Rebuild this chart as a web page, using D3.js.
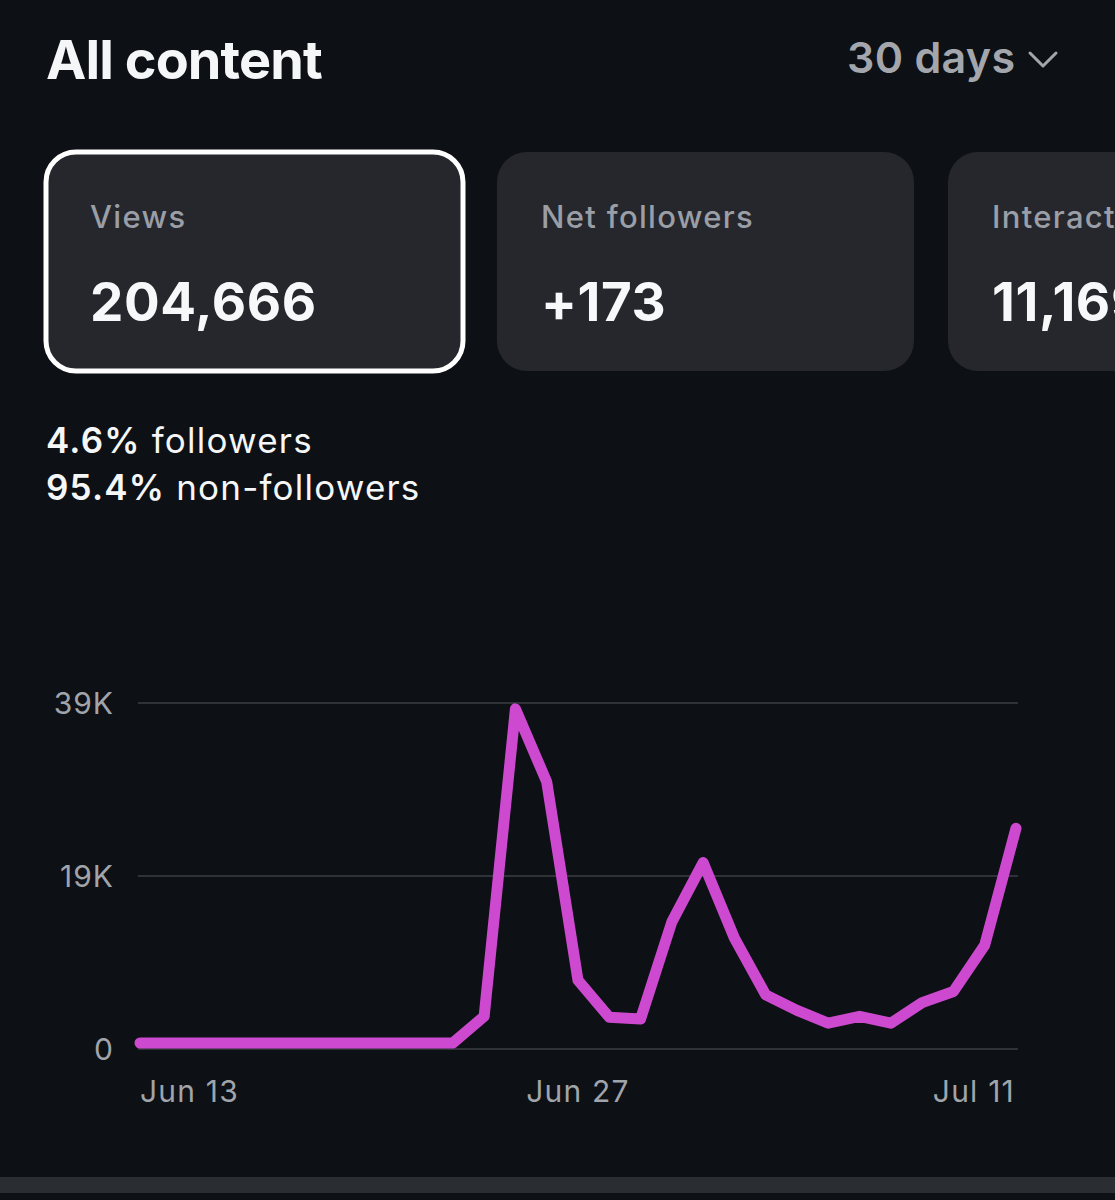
<!DOCTYPE html>
<html>
<head>
<meta charset="utf-8">
<script src="https://cdn.jsdelivr.net/npm/d3@7"></script>
<style>
  html, body { margin: 0; padding: 0; background: #0d1014; }
  svg { display: block; }
  text { font-family: Inter, "Noto Sans", sans-serif; }
</style>
</head>
<body>
<svg id="chart" width="1115" height="1200"></svg>
<script>
// ---- data ----
const days = ["Jun 13","Jun 14","Jun 15","Jun 16","Jun 17","Jun 18","Jun 19","Jun 20","Jun 21","Jun 22",
              "Jun 23","Jun 24","Jun 25","Jun 26","Jun 27","Jun 28","Jun 29","Jun 30","Jul 1","Jul 2",
              "Jul 3","Jul 4","Jul 5","Jul 6","Jul 7","Jul 8","Jul 9","Jul 10","Jul 11"];
const views = [0,0,0,0,0,0,0,0,0,0,0, 3100, 38900, 30400, 7300, 3000, 2800, 14100, 21000, 12200,
               5600, 3800, 2300, 3100, 2300, 4700, 6000, 11400, 25000];
const yTickValues = [0, 19500, 39000];
const yTickLabels = ["0", "19K", "39K"];
const xTickDays = ["Jun 13", "Jun 27", "Jul 11"];
const cardLabels = ["Views", "Net followers", "Interactions"];
const cardValues = ["204,666", "+173", "11,169"];
const splitPct = ["4.6%", "95.4%"];
const splitLabels = ["followers", "non-followers"];

// ---- setup ----
const svg = d3.select("#chart");
svg.append("rect").attr("width", 1115).attr("height", 1200).attr("fill", "#0d1014");

// header
svg.append("text").attr("x", 46).attr("y", 79)
  .attr("fill", "#f5f6f7").attr("font-size", 54).attr("font-weight", 700)
  .attr("letter-spacing", -0.9).text("All content");
svg.append("text").attr("x", 847).attr("y", 73)
  .attr("fill", "#a3a7ad").attr("font-size", 43).attr("font-weight", 600)
  .attr("letter-spacing", 0.3).text("30 days");
svg.append("path").attr("d", "M1030,53 L1043,66 L1056,53")
  .attr("fill", "none").attr("stroke", "#a3a7ad").attr("stroke-width", 3)
  .attr("stroke-linecap", "round").attr("stroke-linejoin", "round");

// cards
const cardX = d3.scaleLinear().domain([0, 1]).range([46, 497]);
const cards = svg.append("g").selectAll("g").data(cardLabels).join("g")
  .attr("transform", (d, i) => `translate(${cardX(i)},152)`);
cards.append("rect")
  .attr("width", 417).attr("height", 219).attr("rx", 30).attr("ry", 30)
  .attr("fill", "#25272c")
  .attr("stroke", (d, i) => i === 0 ? "#ffffff" : "none")
  .attr("stroke-width", 5);
cards.append("text").attr("x", 44).attr("y", 76)
  .attr("fill", "#9a9ea6").attr("font-size", 31).attr("font-weight", 500)
  .attr("letter-spacing", 1.3)
  .text(d => d);
cards.append("text").attr("x", 44).attr("y", 169)
  .attr("fill", "#f7f8f9").attr("font-size", 53).attr("font-weight", 700)
  .attr("letter-spacing", 0.6)
  .text((d, i) => cardValues[i]);

// split text
const split = svg.append("g").selectAll("text").data(splitPct).join("text")
  .attr("x", 46).attr("y", (d, i) => 453 + i * 47)
  .attr("fill", "#f5f6f7").attr("font-size", 35).attr("letter-spacing", 1.2);
split.append("tspan").attr("font-weight", 600).text(d => d);
split.append("tspan").attr("font-weight", 400).text((d, i) => " " + splitLabels[i]);

// ---- chart ----
const x = d3.scalePoint().domain(days).range([140, 1016]);
const yGrid = d3.scaleLinear().domain([0, 39000]).range([1049, 703]);
const yLine = d3.scaleLinear().domain([0, 39000]).range([1043, 708]);

// grid lines
svg.append("g").selectAll("line").data(yTickValues).join("line")
  .attr("x1", 138).attr("x2", 1018)
  .attr("y1", d => yGrid(d)).attr("y2", d => yGrid(d))
  .attr("stroke", "#2f3237").attr("stroke-width", 2);

// y labels
svg.append("g").selectAll("text").data(yTickValues).join("text")
  .attr("x", 114).attr("y", d => yGrid(d))
  .attr("dy", "0.36em").attr("text-anchor", "end")
  .attr("fill", "#a0a4ab").attr("font-size", 30).attr("letter-spacing", 1)
  .text((d, i) => yTickLabels[i]);

// x labels
const anchors = ["start", "middle", "end"];
const nudge = [0, 0, -1];
svg.append("g").selectAll("text").data(xTickDays).join("text")
  .attr("x", (d, i) => x(d) + nudge[i]).attr("y", 1102)
  .attr("text-anchor", (d, i) => anchors[i])
  .attr("fill", "#a0a4ab").attr("font-size", 30).attr("letter-spacing", 1.2)
  .text(d => d);

// line
const line = d3.line().x((d, i) => x(days[i])).y(d => yLine(d));
svg.append("path").datum(views)
  .attr("d", line)
  .attr("fill", "none").attr("stroke", "#cd4ad0").attr("stroke-width", 11)
  .attr("stroke-linejoin", "round").attr("stroke-linecap", "round");

// bottom bar
svg.append("rect").attr("x", 0).attr("y", 1177).attr("width", 1115).attr("height", 16)
  .attr("fill", "#2a2d31");
</script>
</body>
</html>
